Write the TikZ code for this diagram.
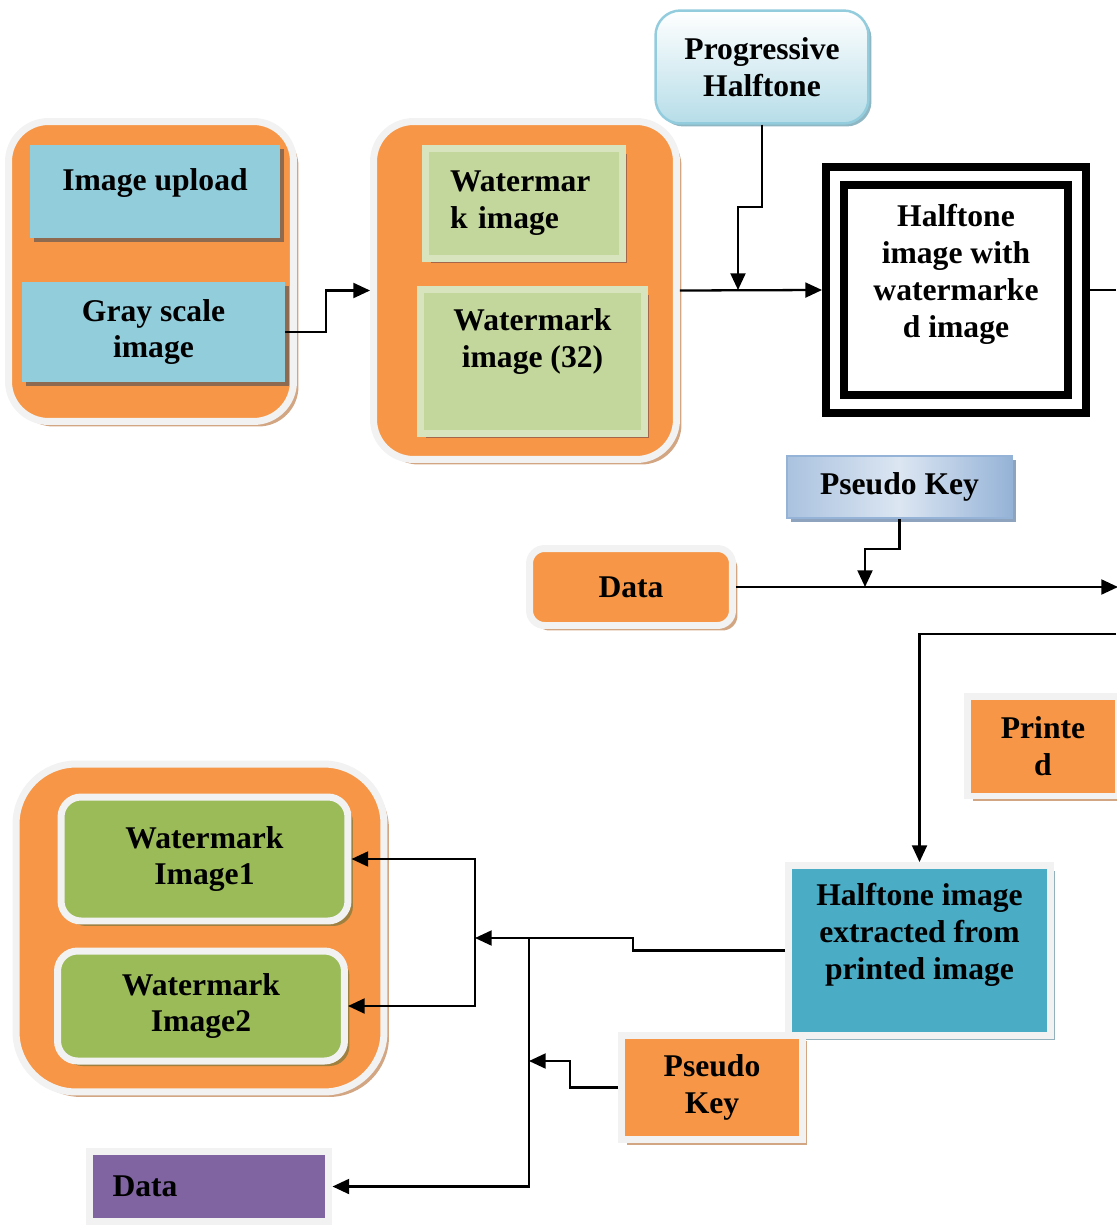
\documentclass[tikz,border=0pt]{standalone}
\usepackage{fontspec}
\setmainfont{Liberation Serif}
\usetikzlibrary{positioning,arrows.meta,shadows}

\definecolor{orng}{HTML}{F79646}
\definecolor{rim}{HTML}{F2F2F2}
\definecolor{tanshd}{HTML}{D3A683}
\definecolor{skyb}{HTML}{92CDDC}
\definecolor{brnshd}{HTML}{8E6B50}
\definecolor{pgreen}{HTML}{C3D69B}
\definecolor{pgrim}{HTML}{D7E4BD}
\definecolor{redshd}{HTML}{A5664A}
\definecolor{phbot}{HTML}{B6DDE8}
\definecolor{phline}{HTML}{93CDDD}
\definecolor{phshd}{HTML}{8FB6C3}
\definecolor{pkblue}{HTML}{95B3D7}
\definecolor{pklight}{HTML}{DCE6F2}
\definecolor{pkshd}{HTML}{8EA3BD}
\definecolor{olive}{HTML}{9BBB59}
\definecolor{oliveshd}{HTML}{9E8040}
\definecolor{tealb}{HTML}{4BACC6}
\definecolor{tealshd}{HTML}{93B1BD}
\definecolor{purp}{HTML}{8064A2}
\definecolor{purpshd}{HTML}{A99BBD}

\begin{document}
\begin{tikzpicture}[x=0.02cm, y=-0.02cm, >=Latex,
  every node/.style={font=\fontsize{18}{21}\selectfont\bfseries, align=center},
  conn/.style={->, line width=1.3pt, >={Triangle[length=9.5pt,width=8.5pt]}},
  grp/.style={fill=orng, draw=rim, line width=0.14cm, rounded corners=0.8cm,
    drop shadow={shadow xshift=0.1cm, shadow yshift=-0.1cm, fill=tanshd, opacity=1}},
  orngbox/.style={fill=orng, draw=rim, line width=0.14cm,
    drop shadow={shadow xshift=0.1cm, shadow yshift=-0.1cm, fill=tanshd, opacity=1}},
  skybox/.style={fill=skyb,
    drop shadow={shadow xshift=0.08cm, shadow yshift=-0.08cm, fill=brnshd, opacity=1}},
  paleg/.style={fill=pgreen, draw=pgrim, line width=0.14cm,
    drop shadow={shadow xshift=0.1cm, shadow yshift=-0.1cm, fill=redshd, opacity=1}},
  greenbox/.style={fill=olive, draw=rim, line width=0.14cm, rounded corners=0.4cm,
    drop shadow={shadow xshift=0.1cm, shadow yshift=-0.1cm, fill=oliveshd, opacity=1}},
  phbox/.style={top color=white, bottom color=phbot, draw=phline, line width=0.05cm,
    rounded corners=0.5cm,
    drop shadow={shadow xshift=0.06cm, shadow yshift=-0.06cm, fill=phshd, opacity=1}},
  pkbox/.style={left color=pkblue!70!pklight, right color=pkblue, middle color=pklight,
    draw=pkblue, line width=0.05cm,
    drop shadow={shadow xshift=0.08cm, shadow yshift=-0.08cm, fill=pkshd, opacity=1}},
  frame/.style={draw=black, line width=0.16cm, double=white, double distance=0.2cm,
    outer sep=0.26cm},
  tealbox/.style={fill=tealb, draw=rim, line width=0.14cm,
    drop shadow={shadow xshift=0.1cm, shadow yshift=-0.1cm, fill=tealshd, opacity=1}},
  purpbox/.style={fill=purp, draw=rim, line width=0.14cm,
    drop shadow={shadow xshift=0.06cm, shadow yshift=-0.06cm, fill=purpshd, opacity=1}}]
  \useasboundingbox (0,0) rectangle (1116,1227);

  % upload group
  \node[grp, minimum width=5.7cm, minimum height=6cm] (grp1) at (151,271.5) {};
  \node[skybox, minimum width=5cm, minimum height=1.86cm,
    label={[yshift=0.17cm]center:Image upload}] (upl) at (155,191.5) {};
  \node[skybox, minimum width=5.26cm, minimum height=2cm] (gray) at (153.5,332) {Gray scale\\image};

  % watermark group
  \node[grp, minimum width=6.06cm, minimum height=6.76cm] (grp2) at (525,290.5) {};
  \node[paleg, minimum width=3.94cm, minimum height=2.2cm, text width=2.96cm, align=left] (wmk) at (524,203.5) {Watermar\\k image};
  \node[paleg, minimum width=4.48cm, minimum height=2.88cm,
    label={[yshift=0.4cm]center:Watermark\\image (32)}] (wm32) at (532.5,361.5) {};

  % halftone
  \node[phbox, minimum width=4.26cm, minimum height=2.26cm] (ph) at (762,67) {Progressive\\Halftone};
  \node[frame, minimum width=4.84cm, minimum height=4.56cm,
    label={[yshift=0.31cm]center:Halftone\\image with\\watermarke\\d image}] (ht) at (956,290) {};

  % key and data
  \node[pkbox, minimum width=4.5cm, minimum height=1.24cm] (pk) at (899.5,487) {Pseudo Key};
  \node[orngbox, rounded corners=0.3cm, minimum width=4.06cm, minimum height=1.54cm] (data) at (631,587) {Data};
  \node[orngbox, minimum width=3.02cm, minimum height=2cm] (prn) at (1043,746) {Printe\\d};

  % extraction
  \node[tealbox, minimum width=5.24cm, minimum height=3.4cm,
    label={[yshift=0.32cm]center:Halftone image\\extracted from\\printed image}] (ext) at (919.5,950.5) {};
  \node[orngbox, minimum width=3.62cm, minimum height=2.08cm] (pk2) at (712,1087.5) {Pseudo\\Key};

  % output group
  \node[grp, rounded corners=1.2cm, minimum width=7.36cm, minimum height=6.56cm] (grp3) at (200,928) {};
  \node[greenbox, minimum width=5.74cm, minimum height=2.48cm] (wm1) at (204.5,859) {Watermark\\Image1};
  \node[greenbox, minimum width=5.74cm, minimum height=2.2cm] (wm2) at (201,1006) {Watermark\\Image2};
  \node[purpbox, minimum width=4.8cm, minimum height=1.4cm, text width=3.86cm, align=left] (dp) at (209,1186.5) {Data};

  % connectors
  \coordinate (phj) at (738,290);
  \coordinate (htout) at (1116,290);
  \coordinate (pkj) at (865,587);
  \coordinate (dout) at (1118,587);
  \coordinate (pin) at (1116,634);
  \coordinate (jn) at (475,938);
  \coordinate (jd) at (529,938);
  \coordinate (kj) at (529,1061);

  \draw[conn] (gray.east) -- ++(41,0) |- (grp2.west);
  \draw[conn] (grp2.east) -- (ht.west);
  \draw[conn] (ph.south) -- ++(0,82) -| (phj);
  \draw[line width=1.3pt] (ht.east) -- (htout);
  \draw[conn] (pk.south) -- ++(0,30) -| (pkj);
  \draw[conn] (data.east) -- (dout);
  \draw[conn] (pin) -| (ext.north);
  \draw[conn] (ext.west) -- ++(-152,0) |- (jn);
  \draw[conn] (jn) |- (wm1);
  \draw[conn] (jn) |- (wm2);
  \draw[conn] (jd) |- (dp);
  \draw[conn] (pk2.west) -- ++(-48,0) |- (kj);
\end{tikzpicture}
\end{document}
